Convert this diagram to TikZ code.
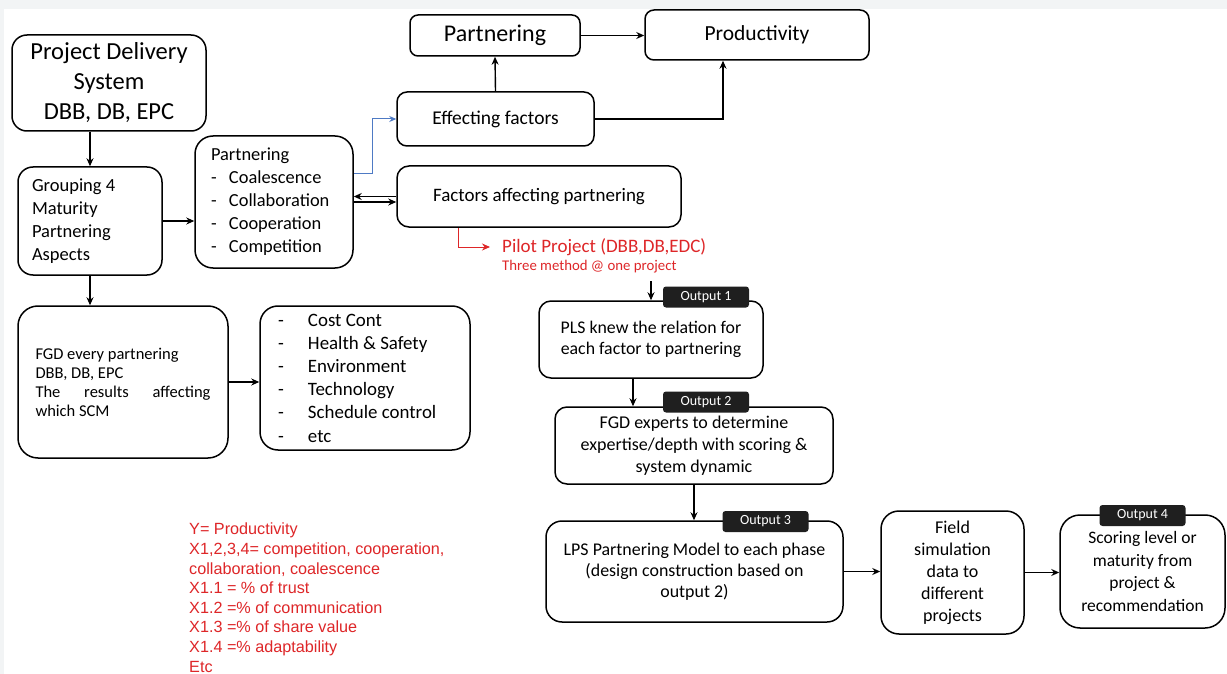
\documentclass[tikz,border=0pt]{standalone}
\usepackage{fontspec}
\setmainfont{Carlito}
\newfontfamily\eqfont{Liberation Sans}
\usepackage{tikz}
\usetikzlibrary{arrows.meta,calc,positioning}
\definecolor{clrRed}{RGB}{222,38,40}
\definecolor{clrBlue}{RGB}{78,122,196}
\definecolor{clrBand}{RGB}{242,244,245}
\tikzstyle{box_style}=[draw, rounded corners=12pt, line width=1.5pt,
anchor=center, text centered, inner sep=0pt, font=\fontsize{18}{22}\selectfont]
\tikzstyle{box_left}=[box_style, align=left, text badly ragged]
\tikzstyle{output_tag}=[fill=black!88, rounded corners=3pt, text=white,
minimum width=86pt, minimum height=21pt, inner sep=0pt, font=\fontsize{14}{16}\selectfont]
\tikzstyle{myarrow}=[-{Stealth[length=8pt,width=7pt]}, line width=1.4pt]
\tikzstyle{redarrow}=[-{Stealth[length=8pt,width=7pt]}, draw=clrRed, line width=1pt]
\tikzstyle{bluearrow}=[-{Stealth[length=7pt,width=6pt]}, draw=clrBlue, line width=1pt]
\begin{document}
\begin{tikzpicture}[x=1pt, y=-1pt]
		\useasboundingbox (0,0) rectangle (1227,674);
		\fill[clrBand] (0,0) rectangle (1227,674);
		\fill[white] (4,9) rectangle (1227,674);

		% left column
		\node[box_style, rounded corners=15pt, minimum width=194pt, minimum height=96pt, align=center,
		font=\fontsize{24.5}{30}\selectfont] (A) at (109,83) {Project Delivery\\System\\DBB, DB, EPC} ;

		\node[box_left, rounded corners=15pt, minimum width=144pt, minimum height=108pt, text width=116pt,
		font=\fontsize{18.5}{23}\selectfont] (B) at (90,221) {Grouping 4\\Maturity\\Partnering\\Aspects} ;
		\draw[myarrow] (A.south -| B.north) -- (B.north) ;

		\node[box_left, rounded corners=18pt, minimum width=158pt, minimum height=132pt, text width=126pt,
		font=\fontsize{18.4}{23}\selectfont] (C) at (274,202) {Partnering\\\makebox[18pt][l]{-}Coalescence\\\makebox[18pt][l]{-}Collaboration\\\makebox[18pt][l]{-}Cooperation\\\makebox[18pt][l]{-}Competition} ;
		\draw[myarrow] (B.east) -- (B.east -| C.west) ;

		% top row
		\node[box_style, rounded corners=10pt, minimum width=197pt, minimum height=54pt,
		font=\fontsize{19.5}{22}\selectfont] (D) at (495.5,119) {Effecting factors} ;
		\draw[bluearrow] ([yshift=28pt]C.east) -- ++(19,0) |- (D.west) ;

		\node[box_style, rounded corners=8pt, minimum width=170pt, minimum height=41pt,
		font=\fontsize{24}{28}\selectfont] (E) at (495,35.5) {Partnering} ;
		\draw[myarrow] (D.north) -- (E.south) ;

		\node[box_style, rounded corners=9pt, minimum width=224pt, minimum height=50pt,
		font=\fontsize{21.5}{26}\selectfont] (F) at (757,35) {Productivity} ;
		\draw[myarrow] (E.east) -- (E.east -| F.west) ;
		\draw[myarrow] (D.east) -| ([xshift=-34pt]F.south) ;

		\node[box_style, rounded corners=12pt, minimum width=284pt, minimum height=61pt,
		font=\fontsize{19}{22}\selectfont] (G) at (539,196.5) {Factors affecting partnering} ;
		\draw[myarrow] (G.west) -- (G.west -| C.east) ;
		\draw[myarrow] (C.east) -- (C.east -| G.west) ;

		% pilot project
		\node[anchor=west, inner sep=0pt, inner xsep=12pt, text=clrRed,
		font=\fontsize{19}{22}\selectfont] (J) at (490,247) {Pilot Project (DBB,DB,EDC)} ;
		\node[anchor=west, inner sep=0pt, text=clrRed,
		font=\fontsize{14.8}{16}\selectfont] (K) at (502,267) {Three method @ one project} ;
		\draw[redarrow] ([xshift=-81pt]G.south) |- (J.west) ;

		% second column
		\node[box_left, rounded corners=20pt, minimum width=210pt, minimum height=152pt, text width=175pt,
		font=\fontsize{16.5}{19}\selectfont] (H) at (123,382) {FGD every partnering\\DBB, DB, EPC\\The\hfill results\hfill affecting\\which SCM} ;
		\draw[myarrow] (B.south) -- (B.south |- H.north) ;

		\node[box_left, rounded corners=18pt, minimum width=210pt, minimum height=144pt, text width=174pt,
		font=\fontsize{18.9}{23.2}\selectfont] (I) at (365,378) {\makebox[30pt][l]{-}Cost Cont\\\makebox[30pt][l]{-}Health \& Safety\\\makebox[30pt][l]{-}Environment\\\makebox[30pt][l]{-}Technology\\\makebox[30pt][l]{-}Schedule control\\\makebox[30pt][l]{-}etc} ;
		\draw[myarrow] (H.east) -- (H.east -| I.west) ;

		% outputs
		\node[box_style, align=center, minimum width=224pt, minimum height=77pt,
		font=\fontsize{17.8}{21.5}\selectfont] (L) at (651,339.5) {PLS knew the relation for\\each factor to partnering} ;
		\draw[myarrow] (L.north) ++(0,-19) -- (L.north) ;

		\node[box_style, align=center, minimum width=278pt, minimum height=77pt,
		font=\fontsize{18}{22}\selectfont] (M) at (694,445.5) {FGD experts to determine\\expertise/depth with scoring \&\\system dynamic} ;
		\draw[myarrow] ([xshift=-18pt]L.south) -- ([xshift=-18pt]L.south |- M.north) ;

		\node[box_style, rounded corners=16pt, align=center, minimum width=297pt, minimum height=101pt,
		font=\fontsize{17.9}{21}\selectfont] (N) at (694.5,571.5) {LPS Partnering Model to each phase\\(design construction based on\\output 2)} ;
		\draw[myarrow] (M.south) -- (M.south |- N.north) ;

		\node[box_style, rounded corners=18pt, align=center, minimum width=143pt, minimum height=123pt] (P) at (952.5,572.5) {Field\\simulation\\data to\\different\\projects} ;
		\draw[myarrow] (N.east) -- (N.east -| P.west) ;

		\node[box_style, rounded corners=20pt, align=center, minimum width=165pt, minimum height=113pt,
		font=\fontsize{17.5}{22.5}\selectfont] (Q) at (1142.5,571.5) {Scoring level or\\maturity from\\project \&\\recommendation} ;
		\draw[myarrow] (P.east) -- (P.east -| Q.west) ;

		\node[output_tag] (O1) at (706,297) {Output 1} ;
		\node[output_tag] (O2) at (706,402) {Output 2} ;
		\node[output_tag] (O3) at (765.5,521.5) {Output 3} ;
		\node[output_tag] (O4) at (1142.5,515.5) {Output 4} ;

		% variables
		\node[anchor=north west, inner sep=0pt, align=left, text=clrRed,
		font=\eqfont\fontsize{16.2}{19.6}\selectfont] (R) at (189,523) {Y= Productivity\\X1,2,3,4= competition, cooperation,\\collaboration, coalescence\\X1.1 = \% of trust\\X1.2 =\% of communication\\X1.3 =\% of share value\\X1.4 =\% adaptability\\Etc} ;

	\end{tikzpicture}
\end{document}
